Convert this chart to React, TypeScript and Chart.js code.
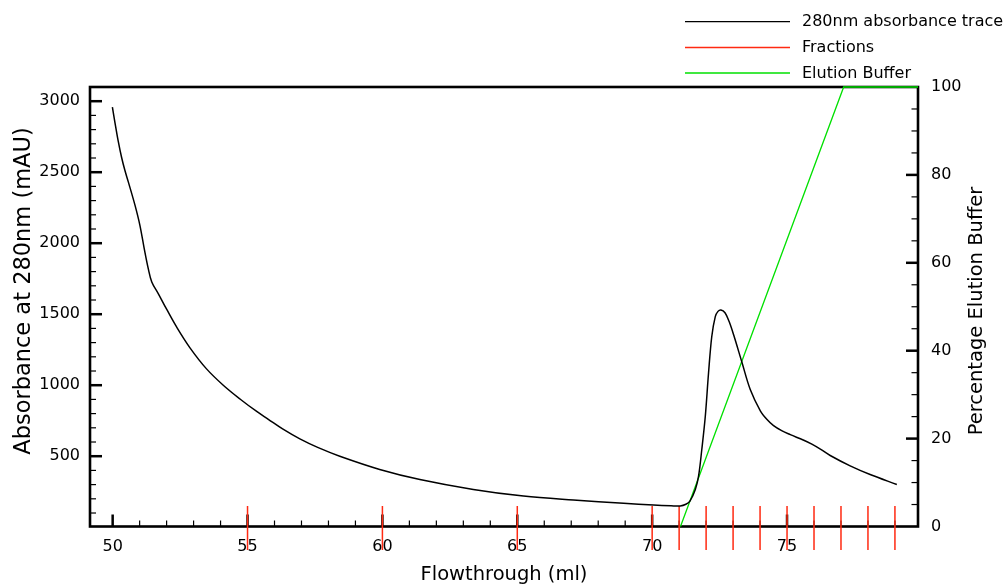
import React, { useEffect, useRef } from 'react';
import { Chart, registerables } from 'chart.js';

Chart.register(...registerables);

// ---- data ----
const TRACE_ML = [
  49.99, 50.085, 50.21, 50.33, 50.45, 50.58, 50.83, 51.01, 51.17, 51.32, 51.45, 51.69, 52.0, 52.37,
  52.86, 53.48, 54.1, 54.72, 55.34, 55.77, 56.3, 56.94, 57.6, 58.42, 59.9, 61.39, 63.37,
  65.23, 67.08, 68.94, 70.05, 70.7, 71.04, 71.25, 71.4, 71.6, 71.72, 71.84, 71.97, 72.09,
  72.21, 72.34, 72.44, 72.55, 72.7, 72.85, 73.02, 73.33, 73.64, 74.01, 74.25, 74.5, 74.8,
  75.12, 75.6, 75.92, 76.25, 76.6, 77.34, 78.08, 79.07,
];
const TRACE_MAU = [
  2958, 2850, 2715, 2605, 2515, 2432, 2266, 2126, 1962, 1821, 1727, 1645, 1535, 1410,
  1265, 1115, 1000, 903, 815, 760, 692, 622, 562, 500, 407, 336, 266,
  219, 191, 168, 156, 151, 150, 162, 184, 266, 360, 547, 781, 1086,
  1343, 1483, 1520, 1530, 1510, 1450, 1355, 1160, 968, 820, 760, 715, 680,
  652, 614, 585, 548, 505, 432, 371, 301,
];
const FRACTIONS_ML = [55, 60, 65, 70, 71, 72, 73, 74, 75, 76, 77, 78, 79];
const BUFFER_ML = [71.05, 77.1, 79.855];
const BUFFER_PCT = [0, 100, 100];

const X_TICKS = [50, 55, 60, 65, 70, 75];
const Y_LEFT_TICKS = [500, 1000, 1500, 2000, 2500, 3000];
const Y_RIGHT_TICKS = [0, 20, 40, 60, 80, 100];
const LEGEND_LABELS = ['280nm absorbance trace', 'Fractions', 'Elution Buffer'];
const X_TITLE = 'Flowthrough (ml)';
const Y_LEFT_TITLE = 'Absorbance at 280nm (mAU)';
const Y_RIGHT_TITLE = 'Percentage Elution Buffer';

// ---- style ----
const FONT = "'DejaVu Sans', sans-serif";
const BLACK = '#000000';
const RED = '#ff2a12';
const GREEN = '#00e000';
const FRACTION_TOP_MAU = 150;
const FRACTION_BOTTOM_MAU = -160;

const framePlugin = {
  id: 'framePlugin',
  beforeDatasetsDraw(chart: any) {
    const { ctx, chartArea: a, scales } = chart;
    const xs = scales.x, yl = scales.y, yr = scales.y1;
    ctx.save();
    ctx.strokeStyle = BLACK;
    ctx.lineCap = 'butt';
    const seg = (x1: number, y1: number, x2: number, y2: number, w: number) => {
      ctx.lineWidth = w;
      ctx.beginPath();
      ctx.moveTo(x1, y1);
      ctx.lineTo(x2, y2);
      ctx.stroke();
    };
    for (let v = 50; v <= 79; v += 1) {
      const major = X_TICKS.includes(v);
      const px = xs.getPixelForValue(v);
      seg(px, a.bottom, px, a.bottom - (major ? 12 : 6), major ? 2.5 : 1.2);
    }
    for (let v = 100; v <= 3000; v += 100) {
      const major = Y_LEFT_TICKS.includes(v);
      const py = yl.getPixelForValue(v);
      seg(a.left, py, a.left + (major ? 12 : 6), py, major ? 2.5 : 1.2);
    }
    for (let v = 5; v < 100; v += 5) {
      const major = Y_RIGHT_TICKS.includes(v);
      const py = yr.getPixelForValue(v);
      seg(a.right, py, a.right - (major ? 12 : 6.5), py, major ? 2.5 : 1.2);
    }
    ctx.lineWidth = 2.6;
    ctx.strokeRect(a.left, a.top, a.right - a.left, a.bottom - a.top);
    ctx.restore();
  },
  afterDraw(chart: any) {
    const { ctx, chartArea: a } = chart;
    ctx.save();
    ctx.fillStyle = BLACK;
    ctx.font = `19.5px ${FONT}`;
    ctx.textAlign = 'center';
    ctx.textBaseline = 'alphabetic';
    ctx.fillText(X_TITLE, (a.left + a.right) / 2, 580);

    ctx.save();
    ctx.translate(29.5, 291);
    ctx.rotate(-Math.PI / 2);
    ctx.font = `22.5px ${FONT}`;
    ctx.fillText(Y_LEFT_TITLE, 0, 0);
    ctx.restore();

    ctx.save();
    ctx.translate(982, 311);
    ctx.rotate(-Math.PI / 2);
    ctx.font = `19.5px ${FONT}`;
    ctx.fillText(Y_RIGHT_TITLE, 0, 0);
    ctx.restore();

    const colors = [BLACK, RED, GREEN];
    const rows = [21.7, 47.5, 73];
    ctx.font = `16px ${FONT}`;
    ctx.textAlign = 'left';
    ctx.textBaseline = 'middle';
    LEGEND_LABELS.forEach((lab, i) => {
      ctx.strokeStyle = colors[i];
      ctx.lineWidth = 1.3;
      ctx.beginPath();
      ctx.moveTo(685, rows[i]);
      ctx.lineTo(790, rows[i]);
      ctx.stroke();
      ctx.fillStyle = BLACK;
      ctx.fillText(lab, 802, rows[i] + 0.5);
    });
    ctx.restore();
  },
};

const plain = (v: any) => String(v);

export default function App() {
  const ref = useRef<HTMLCanvasElement | null>(null);
  useEffect(() => {
    document.body.style.margin = '0';
    if (!ref.current) return;
    Chart.defaults.font.family = FONT;
    Chart.defaults.font.size = 16;
    Chart.defaults.color = BLACK;

    const traceData = TRACE_ML.map((x, i) => ({ x, y: TRACE_MAU[i] }));
    const fractionData: any[] = [];
    FRACTIONS_ML.forEach((f) => {
      fractionData.push({ x: f, y: FRACTION_TOP_MAU });
      fractionData.push({ x: f, y: FRACTION_BOTTOM_MAU });
      fractionData.push({ x: f, y: null });
    });
    const bufferData = BUFFER_ML.map((x, i) => ({ x, y: BUFFER_PCT[i] }));

    const chart = new Chart(ref.current, {
      type: 'line',
      data: {
        datasets: [
          {
            label: LEGEND_LABELS[0],
            data: traceData,
            borderColor: BLACK,
            borderWidth: 1.5,
            pointRadius: 0,
            tension: 0.35,
            yAxisID: 'y',
          },
          {
            label: LEGEND_LABELS[1],
            data: fractionData,
            borderColor: RED,
            borderWidth: 1.5,
            pointRadius: 0,
            spanGaps: false,
            clip: false,
            yAxisID: 'y',
          },
          {
            label: LEGEND_LABELS[2],
            data: bufferData,
            borderColor: GREEN,
            borderWidth: 1.3,
            pointRadius: 0,
            clip: false,
            yAxisID: 'y1',
          },
        ],
      } as any,
      options: {
        animation: false,
        responsive: false,
        events: [],
        layout: { padding: { top: 87, left: 0, right: 0, bottom: 0 } },
        plugins: { legend: { display: false }, tooltip: { enabled: false } },
        scales: {
          x: {
            type: 'linear',
            position: 'bottom',
            min: 49.16,
            max: 79.855,
            grid: { display: false, drawTicks: false },
            border: { display: false },
            ticks: { padding: 11, autoSkip: false, maxRotation: 0, font: { size: 16 }, color: BLACK, callback: plain },
            afterBuildTicks: (s: any) => { s.ticks = X_TICKS.map((v) => ({ value: v })); },
            afterFit: (s: any) => { s.height = 59.5; },
          },
          y: {
            type: 'linear',
            position: 'left',
            min: 5,
            max: 3100,
            grid: { display: false, drawTicks: false },
            border: { display: false },
            ticks: { padding: 10, autoSkip: false, font: { size: 16 }, color: BLACK, callback: plain },
            afterBuildTicks: (s: any) => { s.ticks = Y_LEFT_TICKS.map((v) => ({ value: v })); },
            afterFit: (s: any) => { s.width = 90; },
          },
          y1: {
            type: 'linear',
            position: 'right',
            min: 0,
            max: 100,
            grid: { display: false, drawTicks: false },
            border: { display: false },
            ticks: { padding: 13, autoSkip: false, font: { size: 16 }, color: BLACK, callback: plain },
            afterBuildTicks: (s: any) => { s.ticks = Y_RIGHT_TICKS.map((v) => ({ value: v })); },
            afterFit: (s: any) => { s.width = 87; },
          },
        },
      } as any,
      plugins: [framePlugin],
    });
    return () => chart.destroy();
  }, []);

  return (
    <div style={{ position: 'absolute', left: 0, top: 0, width: 1005, height: 586, background: '#fff' }}>
      <canvas ref={ref} width={1005} height={586} />
    </div>
  );
}
